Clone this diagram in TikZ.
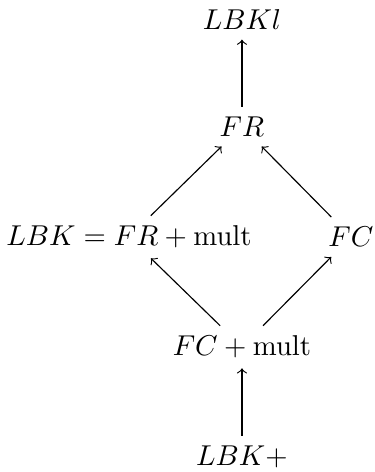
\documentclass[tikz,border=0pt]{standalone}
\usepackage{amsmath}
\begin{document}
\begin{tikzpicture}
			\useasboundingbox (0,0) rectangle (4.58,-5.78);
			\node (lbkl) at (2.963,-0.239) {$LBKl$};
			\node (fr) at (2.963,-1.549) {$FR$};
			\node (lbk) at (1.580,-2.902) {$LBK=FR+\mathrm{mult}$};
			\node (fc) at (4.298,-2.902) {$FC$};
			\node (fcm) at (2.963,-4.249) {$FC+\mathrm{mult}$};
			\node (lbkp) at (2.963,-5.596) {$LBK+$};
			\foreach \a/\b in {fr/lbkl,lbk/fr,fc/fr,fcm/lbk,fcm/fc,lbkp/fcm}
			\draw[->] (\a)--(\b);
		\end{tikzpicture}
\end{document}
